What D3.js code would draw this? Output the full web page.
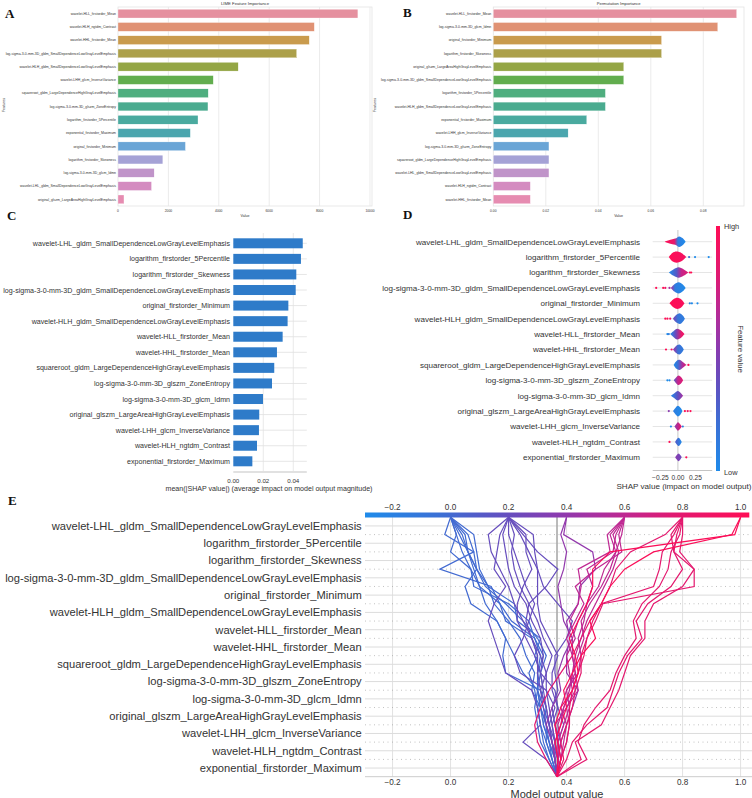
<!DOCTYPE html>
<html><head><meta charset="utf-8">
<script src="https://cdn.jsdelivr.net/npm/d3@7"></script>
<style>body{margin:0;background:#fff}svg{display:block}</style>
</head><body><svg id="c" width="752" height="798" font-family="'Liberation Sans',Arial,sans-serif"></svg>
<script>
// ---------------- DATA ----------------
const aFeatures = ["wavelet-HLL_firstorder_Mean","wavelet-HLH_ngtdm_Contrast","wavelet-HHL_firstorder_Mean","log-sigma-3-0-mm-3D_gldm_SmallDependenceLowGrayLevelEmphasis","wavelet-HLH_gldm_SmallDependenceLowGrayLevelEmphasis","wavelet-LHH_glcm_InverseVariance","squareroot_gldm_LargeDependenceHighGrayLevelEmphasis","log-sigma-3-0-mm-3D_glszm_ZoneEntropy","logarithm_firstorder_5Percentile","exponential_firstorder_Maximum","original_firstorder_Minimum","logarithm_firstorder_Skewness","log-sigma-3-0-mm-3D_glcm_Idmn","wavelet-LHL_gldm_SmallDependenceLowGrayLevelEmphasis","original_glszm_LargeAreaHighGrayLevelEmphasis"];
const aValues = [9520,7790,7590,7090,4770,3780,3580,3570,3175,2870,2675,1780,1435,1330,237];
const aTicks = [0,2000,4000,6000,8000,10000];

const bFeatures = ["wavelet-HLL_firstorder_Mean","log-sigma-3-0-mm-3D_glcm_Idmn","original_firstorder_Minimum","logarithm_firstorder_Skewness","original_glszm_LargeAreaHighGrayLevelEmphasis","log-sigma-3-0-mm-3D_gldm_SmallDependenceLowGrayLevelEmphasis","logarithm_firstorder_5Percentile","wavelet-HLH_gldm_SmallDependenceLowGrayLevelEmphasis","exponential_firstorder_Maximum","wavelet-LHH_glcm_InverseVariance","log-sigma-3-0-mm-3D_glszm_ZoneEntropy","squareroot_gldm_LargeDependenceHighGrayLevelEmphasis","wavelet-LHL_gldm_SmallDependenceLowGrayLevelEmphasis","wavelet-HLH_ngtdm_Contrast","wavelet-HHL_firstorder_Mean"];
const bValues = [0.0927,0.0855,0.0641,0.0641,0.0497,0.0497,0.0427,0.0427,0.0356,0.0285,0.0212,0.0212,0.0212,0.0141,0.0141];
const bTicks = [0,0.02,0.04,0.06,0.08];

const shapFeatures = ["wavelet-LHL_gldm_SmallDependenceLowGrayLevelEmphasis","logarithm_firstorder_5Percentile","logarithm_firstorder_Skewness","log-sigma-3-0-mm-3D_gldm_SmallDependenceLowGrayLevelEmphasis","original_firstorder_Minimum","wavelet-HLH_gldm_SmallDependenceLowGrayLevelEmphasis","wavelet-HLL_firstorder_Mean","wavelet-HHL_firstorder_Mean","squareroot_gldm_LargeDependenceHighGrayLevelEmphasis","log-sigma-3-0-mm-3D_glszm_ZoneEntropy","log-sigma-3-0-mm-3D_glcm_Idmn","original_glszm_LargeAreaHighGrayLevelEmphasis","wavelet-LHH_glcm_InverseVariance","wavelet-HLH_ngtdm_Contrast","exponential_firstorder_Maximum"];
const cValues = [0.0463,0.0451,0.0420,0.0416,0.0367,0.0362,0.0329,0.0291,0.0273,0.0258,0.0198,0.0173,0.0171,0.0158,0.0127];
const cTicks = [0,0.02,0.04];

// D: violin profile [shap, density], colour stops [shap, feature value], outlier dots [shap, feature value]
const dProfiles = [
 [[-0.19,0],[-0.12,0.3],[-0.04,0.55],[0.02,0.95],[0.07,0.6],[0.11,0]],
 [[-0.13,0],[-0.08,0.75],[-0.02,1],[0.05,0.75],[0.12,0]],
 [[-0.13,0],[-0.06,0.6],[0.01,0.95],[0.08,0.6],[0.15,0]],
 [[-0.1,0],[-0.05,0.65],[0.01,1],[0.07,0.6],[0.11,0]],
 [[-0.12,0],[-0.06,0.75],[-0.01,1],[0.05,0.7],[0.095,0]],
 [[-0.07,0],[-0.03,0.6],[0.03,0.95],[0.07,0.55],[0.1,0]],
 [[-0.11,0],[-0.06,0.55],[-0.01,0.95],[0.05,0.6],[0.095,0]],
 [[-0.07,0],[-0.03,0.6],[0.02,0.9],[0.06,0.5],[0.085,0]],
 [[-0.06,0],[-0.02,0.7],[0.02,0.9],[0.07,0.5],[0.12,0]],
 [[-0.06,0],[-0.02,0.6],[0.01,0.85],[0.05,0.5],[0.075,0]],
 [[-0.1,0],[-0.05,0.45],[0.0,0.85],[0.04,0.5],[0.075,0]],
 [[-0.07,0],[-0.03,0.65],[0.0,0.95],[0.04,0.55],[0.065,0]],
 [[-0.05,0],[-0.02,0.5],[0.0,0.75],[0.03,0.45],[0.055,0]],
 [[-0.04,0],[-0.01,0.55],[0.01,0.75],[0.035,0.45],[0.055,0]],
 [[-0.04,0],[-0.01,0.5],[0.01,0.7],[0.035,0.4],[0.055,0]]
];
const dColorStops = [
 [[-0.19,1],[-0.05,0.85],[0.0,0.1],[0.11,0]],
 [[-0.13,1],[0.12,0.92]],
 [[-0.13,0],[-0.02,0.3],[0.05,0.7],[0.15,0.8]],
 [[-0.1,0.6],[-0.04,0.1],[0.11,0]],
 [[-0.12,1],[0.095,0.95]],
 [[-0.07,0.45],[0.0,0.15],[0.1,0.1]],
 [[-0.11,0],[-0.03,0.4],[0.05,0.85],[0.1,0.9]],
 [[-0.07,0.6],[0.0,0.2],[0.085,0.1]],
 [[-0.06,0],[0.0,0.2],[0.06,0.6],[0.12,0.8]],
 [[-0.06,0.3],[0.0,0.7],[0.075,0.8]],
 [[-0.1,0],[0.0,0.35],[0.075,0.6]],
 [[-0.07,0.1],[0.065,0]],
 [[-0.05,0.5],[0.055,0.9]],
 [[-0.04,0.3],[0.055,0]],
 [[-0.04,0.5],[0.055,0.4]]
];
const dDots = [
 [],
 [[0.16,0.2],[0.245,0],[0.44,0]],
 [[0.17,1],[0.19,1]],
 [[-0.31,1],[-0.21,1],[-0.18,0.9],[-0.12,0.6]],
 [[0.17,0.1],[0.2,0],[0.28,0]],
 [[-0.18,1],[-0.15,1],[-0.11,0.9]],
 [[-0.15,0],[-0.13,0.1]],
 [[-0.17,1],[-0.09,0.9]],
 [[0.15,1]],
 [[-0.15,0],[-0.12,0]],
 [],
 [[-0.13,0.5],[0.1,1],[0.14,0.9],[0.18,1]],
 [[-0.1,0],[0.07,0.1]],
 [[-0.12,1]],
 [[0.12,1]]
];
const dTicks = [-0.25,0,0.25];

// E: decision plot, cumulative model output from base value (bottom) to prediction (top)
const eBase = 0.367;
const eTicks = [-0.2,0,0.2,0.4,0.6,0.8,1.0];
const eLines = [
 [.367,.36,.34,.33,.31,.30,.30,.31,.29,.27,.20,.08,.07,.00,.02,0],
 [.367,.35,.33,.31,.30,.32,.31,.33,.30,.25,.19,.12,.09,.06,.03,0],
 [.367,.34,.32,.31,.30,.29,.27,.30,.28,.19,.17,.14,-.037,.08,-.02,0],
 [.367,.35,.34,.32,.33,.31,.19,.18,.19,.16,.07,.05,.09,.06,.05,0],
 [.367,.36,.35,.34,.32,.30,.30,.32,.29,.21,.17,.10,.07,.04,.02,0],
 [.367,.35,.33,.33,.31,.28,.29,.26,.24,.20,.15,.13,.09,.08,.06,0],
 [.367,.36,.34,.32,.31,.30,.31,.29,.31,.23,.22,.13,.10,.09,.08,0],
 [.367,.34,.31,.30,.29,.30,.25,.22,.19,.16,.12,.10,.08,.06,.04,0],
 [.367,.36,.35,.33,.32,.31,.30,.30,.28,.25,.22,.20,.17,.14,.13,.2],
 [.367,.33,.25,.31,.30,.28,.19,.17,.15,.13,.15,.19,.15,.16,.17,.2],
 [.367,.37,.35,.34,.33,.31,.33,.35,.32,.30,.27,.24,.22,.21,.22,.2],
 [.367,.37,.36,.35,.37,.36,.31,.29,.26,.23,.23,.25,.28,.26,.26,.2],
 [.367,.38,.37,.39,.37,.35,.35,.37,.34,.31,.30,.30,.30,.29,.285,.2],
 [.367,.36,.35,.34,.36,.33,.24,.22,.25,.27,.29,.26,.24,.22,.20,.2],
 [.367,.37,.36,.34,.33,.32,.31,.32,.31,.28,.26,.22,.20,.19,.18,.2],
 [.367,.37,.38,.36,.35,.37,.36,.36,.40,.42,.37,.32,.30,.27,.24,.2],
 [.367,.36,.36,.35,.34,.33,.33,.31,.28,.26,.27,.33,.37,.30,.25,.2],
 [.367,.37,.38,.40,.42,.44,.40,.40,.41,.40,.44,.445,.50,.49,.39,.4],
 [.367,.36,.35,.33,.35,.38,.37,.39,.42,.39,.38,.37,.39,.40,.38,.4],
 [.367,.38,.40,.41,.40,.43,.42,.44,.46,.45,.48,.52,.55,.57,.55,.6],
 [.367,.37,.36,.38,.39,.41,.42,.43,.45,.47,.50,.53,.56,.58,.56,.6],
 [.367,.38,.37,.39,.41,.40,.44,.45,.44,.46,.47,.49,.47,.56,.57,.6],
 [.367,.37,.38,.37,.39,.42,.41,.40,.43,.41,.44,.45,.44,.55,.54,.6],
 [.367,.38,.39,.40,.38,.40,.43,.42,.40,.43,.46,.43,.50,.59,.58,.6],
 [.367,.37,.37,.36,.40,.44,.43,.42,.42,.44,.47,.51,.53,.57,.59,.6],
 [.367,.45,.43,.52,.55,.58,.60,.62,.67,.67,.70,.80,.84,.79,.80,.8],
 [.367,.40,.42,.47,.54,.56,.58,.61,.66,.64,.68,.76,.80,.77,.78,.8],
 [.367,.38,.40,.41,.41,.42,.44,.46,.47,.50,.525,.84,.84,.77,.76,.8],
 [.367,.39,.38,.40,.42,.43,.45,.45,.47,.49,.52,.70,.72,.73,.77,.8],
 [.367,.47,.44,.46,.50,.55,.57,.60,.64,.63,.66,.72,.75,.76,.79,.8],
 [.367,.33,.30,.29,.31,.34,.38,.42,.45,.48,.52,.55,.57,.62,.74,.8],
 [.367,.38,.37,.36,.38,.42,.44,.43,.41,.44,.47,.49,.49,.55,.98,1.0],
 [.367,.37,.36,.38,.40,.39,.42,.45,.50,.48,.52,.55,.60,.70,.97,1.0]
];

// ---------------- STYLE ----------------
const palette = ["#e5909f","#e09274","#c99b4d","#aca04a","#94a645","#62ad4e","#4fae7f","#4aab8f","#4aaa9f","#4ba6ae","#6aa5d6","#a5a2d6","#c094c9","#d48bc0","#e68cb1"];
const txt = "#333";
const shapColor = d3.scaleLinear()
  .domain([0,0.2,0.35,0.5,0.65,0.8,1])
  .range(["#1f8bea","#3d6fd4","#5f50c0","#8a3bb0","#b82a98","#e01a72","#ff0d55"])
  .interpolate(d3.interpolateRgb).clamp(true);

const svg = d3.select("#c");
svg.append("rect").attr("width",752).attr("height",798).attr("fill","#fff");
const defs = svg.append("defs");

// scale the font of a text selection so that its widest member spans `target` px
function fit(sel, target){
  const fs = +sel.attr("font-size");
  const w = d3.max(sel.nodes(), n=>n.getComputedTextLength());
  sel.attr("font-size", fs*target/w);
}

// ---------------- A & B ----------------
function barPanel(names, values, ticks, fmt, cfg){
  const g = svg.append("g");
  const x = d3.scaleLinear().domain(cfg.domain).range([cfg.left, cfg.right]);
  const y = d3.scaleBand().domain(names).range([cfg.top, cfg.bottom]).paddingInner(0.34).paddingOuter(0.17);
  g.append("rect").attr("x",cfg.left).attr("y",cfg.top).attr("width",cfg.right-cfg.left).attr("height",cfg.bottom-cfg.top)
    .attr("fill","#fff").attr("stroke","#e3e3e3").attr("stroke-width",0.8);
  g.selectAll("line.grid").data(ticks.filter(t=>t>0 && x(t)<cfg.right-1)).join("line")
    .attr("x1",d=>x(d)).attr("x2",d=>x(d)).attr("y1",cfg.top).attr("y2",cfg.bottom).attr("stroke","#e6e6e6").attr("stroke-width",0.8);
  g.selectAll("rect.bar").data(names).join("rect")
    .attr("x",x(0)).attr("y",d=>y(d)).attr("width",(d,i)=>x(values[i])-x(0)).attr("height",y.bandwidth())
    .attr("fill",(d,i)=>palette[i]).attr("stroke","#fff").attr("stroke-width",0.3);
  const labs = g.selectAll("text.lab").data(names).join("text")
    .attr("x",cfg.left-2).attr("y",d=>y(d)+y.bandwidth()/2).attr("dy","0.35em").attr("text-anchor","end")
    .attr("font-size",3.6).attr("fill",txt).text(d=>d);
  fit(labs, 110.5);
  g.selectAll("text.tk").data(ticks).join("text")
    .attr("x",d=>x(d)).attr("y",cfg.bottom+6).attr("text-anchor","middle").attr("font-size",3.3).attr("fill",txt).text(fmt);
  g.append("text").attr("x",(cfg.left+cfg.right)/2).attr("y",cfg.bottom+10.5).attr("text-anchor","middle").attr("font-size",3.6).attr("fill",txt).text("Value");
  const t = g.append("text").attr("x",(cfg.left+cfg.right)/2).attr("y",cfg.top-2).attr("text-anchor","middle").attr("font-size",4.2).attr("fill",txt).text(cfg.title);
  fit(t, cfg.titleW);
  g.append("text").attr("transform",`translate(${cfg.ylabX},105) rotate(-90)`).attr("text-anchor","middle").attr("font-size",3.6).attr("fill",txt).text("Features");
}
barPanel(aFeatures, aValues, aTicks, d=>String(d), {domain:[0,10080], left:118, right:372, top:7, bottom:206, title:"LIME Feature Importance", titleW:48, ylabX:5});
barPanel(bFeatures, bValues, bTicks, d3.format(".2f"), {domain:[0,0.0955], left:493.3, right:744, top:7, bottom:206, title:"Permutation Importance", titleW:44, ylabX:376});

// ---------------- C ----------------
(function(){
  const g = svg.append("g");
  const x = d3.scaleLinear().domain([0,0.049]).range([233.3, 306.8]);
  const y = d3.scalePoint().domain(shapFeatures).range([243.3, 461.3]);
  const bh = 10;
  g.selectAll("line.v").data(cTicks.filter(t=>t>0)).join("line")
    .attr("x1",d=>x(d)).attr("x2",d=>x(d)).attr("y1",233).attr("y2",471).attr("stroke","#e4e4e4").attr("stroke-width",0.8);
  g.selectAll("line.h").data(shapFeatures).join("line")
    .attr("x1",x(0)).attr("x2",x.range()[1]).attr("y1",d=>y(d)).attr("y2",d=>y(d)).attr("stroke","#e0e0e0").attr("stroke-width",0.8);
  g.selectAll("rect").data(shapFeatures).join("rect")
    .attr("x",x(0)).attr("y",d=>y(d)-bh/2).attr("width",(d,i)=>x(cValues[i])-x(0)).attr("height",bh).attr("fill","#2e7bc9");
  const labs = g.selectAll("text.lab").data(shapFeatures).join("text")
    .attr("x",230).attr("y",d=>y(d)).attr("dy","0.35em").attr("text-anchor","end").attr("font-size",7.3).attr("fill",txt).text(d=>d);
  fit(labs, 227);
  g.append("line").attr("x1",x(0)).attr("x2",x.range()[1]).attr("y1",472).attr("y2",472).attr("stroke","#aaa").attr("stroke-width",0.7);
  g.selectAll("text.tk").data(cTicks).join("text")
    .attr("x",d=>x(d)).attr("y",483).attr("text-anchor","middle").attr("font-size",6.2).attr("fill",txt).text(d3.format(".2f"));
  const t = g.append("text").attr("x",269).attr("y",491).attr("text-anchor","middle").attr("font-size",6.6).attr("fill",txt)
    .text("mean(|SHAP value|) (average impact on model output magnitude)");
  fit(t, 207);
})();

// ---------------- D ----------------
(function(){
  const g = svg.append("g");
  const x = d3.scaleLinear().domain([-0.36,0.49]).range([652.7, 712.2]);
  const y = d3.scalePoint().domain(shapFeatures).range([241.7, 457.3]);
  const amp = 5.6;
  g.selectAll("line.h").data(shapFeatures).join("line")
    .attr("x1",x.range()[0]).attr("x2",x.range()[1]).attr("y1",d=>y(d)).attr("y2",d=>y(d)).attr("stroke","#dedede").attr("stroke-width",0.8);
  g.append("line").attr("x1",x(0)).attr("x2",x(0)).attr("y1",230).attr("y2",470).attr("stroke","#bbb").attr("stroke-width",0.8);
  shapFeatures.forEach((f,i)=>{
    const prof = dProfiles[i], stops = dColorStops[i];
    const lo = prof[0][0], hi = prof[prof.length-1][0];
    const gid = "dg"+i;
    const grad = defs.append("linearGradient").attr("id",gid).attr("gradientUnits","userSpaceOnUse")
      .attr("x1",x(lo)).attr("x2",x(hi)).attr("y1",0).attr("y2",0);
    stops.forEach(s=>grad.append("stop").attr("offset",Math.max(0,Math.min(1,(s[0]-lo)/(hi-lo)))).attr("stop-color",shapColor(s[1])));
    const area = d3.area().x(d=>x(d[0])).y0(d=>y(f)-d[1]*amp).y1(d=>y(f)+d[1]*amp).curve(d3.curveCatmullRom);
    g.append("path").attr("d",area(prof)).attr("fill",`url(#${gid})`);
    g.selectAll(null).data(dDots[i]).join("circle")
      .attr("cx",d=>x(d[0])).attr("cy",y(f)).attr("r",1.1).attr("fill",d=>shapColor(d[1]));
  });
  const labs = g.selectAll("text.lab").data(shapFeatures).join("text")
    .attr("x",640).attr("y",d=>y(d)).attr("dy","0.35em").attr("text-anchor","end").attr("font-size",8.3).attr("fill",txt).text(d=>d);
  fit(labs, 258);
  g.append("line").attr("x1",x.range()[0]).attr("x2",x.range()[1]).attr("y1",470.5).attr("y2",470.5).attr("stroke","#aaa").attr("stroke-width",0.7);
  g.selectAll("text.tk").data(dTicks).join("text")
    .attr("x",d=>x(d)).attr("y",479.5).attr("text-anchor","middle").attr("font-size",6.6).attr("fill",txt).text(d3.format(".2f"));
  const t = g.append("text").attr("x",684).attr("y",489).attr("text-anchor","middle").attr("font-size",7.6).attr("fill",txt).text("SHAP value (impact on model output)");
  fit(t, 135);
  const cg = defs.append("linearGradient").attr("id","dcb").attr("x1",0).attr("x2",0).attr("y1",1).attr("y2",0);
  d3.range(0,1.0001,0.1).forEach(t=>cg.append("stop").attr("offset",t).attr("stop-color",shapColor(t)));
  g.append("rect").attr("x",716).attr("y",226).attr("width",4).attr("height",245).attr("fill","url(#dcb)");
  g.append("text").attr("x",724).attr("y",229).attr("font-size",7.4).attr("fill",txt).text("High");
  g.append("text").attr("x",724).attr("y",475).attr("font-size",7.4).attr("fill",txt).text("Low");
  g.append("text").attr("transform","translate(738,349) rotate(90)").attr("text-anchor","middle").attr("font-size",7.8).attr("fill",txt).text("Feature value");
})();

// ---------------- E ----------------
(function(){
  const g = svg.append("g");
  const x = d3.scaleLinear().domain([-0.295,1.03]).range([365, 749.3]);
  const n = shapFeatures.length;
  const y = d3.scaleLinear().domain([0,n]).range([776.7, 517.3]);
  g.selectAll("line.v").data(eTicks).join("line")
    .attr("x1",d=>x(d)).attr("x2",d=>x(d)).attr("y1",517).attr("y2",777).attr("stroke","#e2e2e2").attr("stroke-width",1);
  g.selectAll("line.h").data(d3.range(n)).join("line")
    .attr("x1",365).attr("x2",752).attr("y1",d=>y(d+0.5)).attr("y2",d=>y(d+0.5)).attr("stroke","#dcdcdc").attr("stroke-width",1);
  g.selectAll("line.d").data(d3.range(1,n)).join("line")
    .attr("x1",365).attr("x2",752).attr("y1",d=>y(d)).attr("y2",d=>y(d)).attr("stroke","#999").attr("stroke-width",0.6).attr("stroke-dasharray","1,3.5");
  g.append("line").attr("x1",365).attr("x2",752).attr("y1",y(0)).attr("y2",y(0)).attr("stroke","#ccc").attr("stroke-width",1);
  g.append("line").attr("x1",x(eBase)).attr("x2",x(eBase)).attr("y1",517).attr("y2",777).attr("stroke","#aaa").attr("stroke-width",1.6);
  const labs = g.selectAll("text.lab").data(shapFeatures).join("text")
    .attr("x",361.7).attr("y",(d,i)=>y(n-1-i+0.5)).attr("dy","0.35em").attr("text-anchor","end").attr("font-size",11.5).attr("fill",txt).text(d=>d);
  fit(labs, 357);
  const line = d3.line().x(d=>x(d)).y((d,i)=>y(i));
  g.selectAll("path.l").data(eLines).join("path")
    .attr("d",line).attr("fill","none").attr("stroke-width",1.2)
    .attr("stroke",d=>shapColor((d[d.length-1]-x.domain()[0])/(x.domain()[1]-x.domain()[0])));
  const cg = defs.append("linearGradient").attr("id","ecb").attr("x1",0).attr("x2",1).attr("y1",0).attr("y2",0);
  d3.range(0,1.0001,0.1).forEach(t=>cg.append("stop").attr("offset",t).attr("stop-color",shapColor(t)));
  g.append("rect").attr("x",365).attr("y",512.5).attr("width",384.3).attr("height",5).attr("fill","url(#ecb)");
  g.selectAll("text.tt").data(eTicks).join("text")
    .attr("x",d=>x(d)).attr("y",510).attr("text-anchor","middle").attr("font-size",8.2).attr("fill",txt).text(d3.format(".1f"));
  g.selectAll("text.tb").data(eTicks).join("text")
    .attr("x",d=>x(d)).attr("y",785).attr("text-anchor","middle").attr("font-size",8.2).attr("fill",txt).text(d3.format(".1f"));
  const t = g.append("text").attr("x",557).attr("y",797.5).attr("text-anchor","middle").attr("font-size",10).attr("fill",txt).text("Model output value");
  fit(t, 93);
})();

// ---------------- panel letters ----------------
[["A",5,18],["B",403,17],["C",7,220],["D",403,219],["E",8,505]].forEach(p=>{
  svg.append("text").attr("x",p[1]).attr("y",p[2]).style("font-family","'Liberation Serif','Times New Roman',serif")
    .attr("font-weight","bold").attr("font-size",13).attr("fill","#111").text(p[0]);
});
</script></body></html>
